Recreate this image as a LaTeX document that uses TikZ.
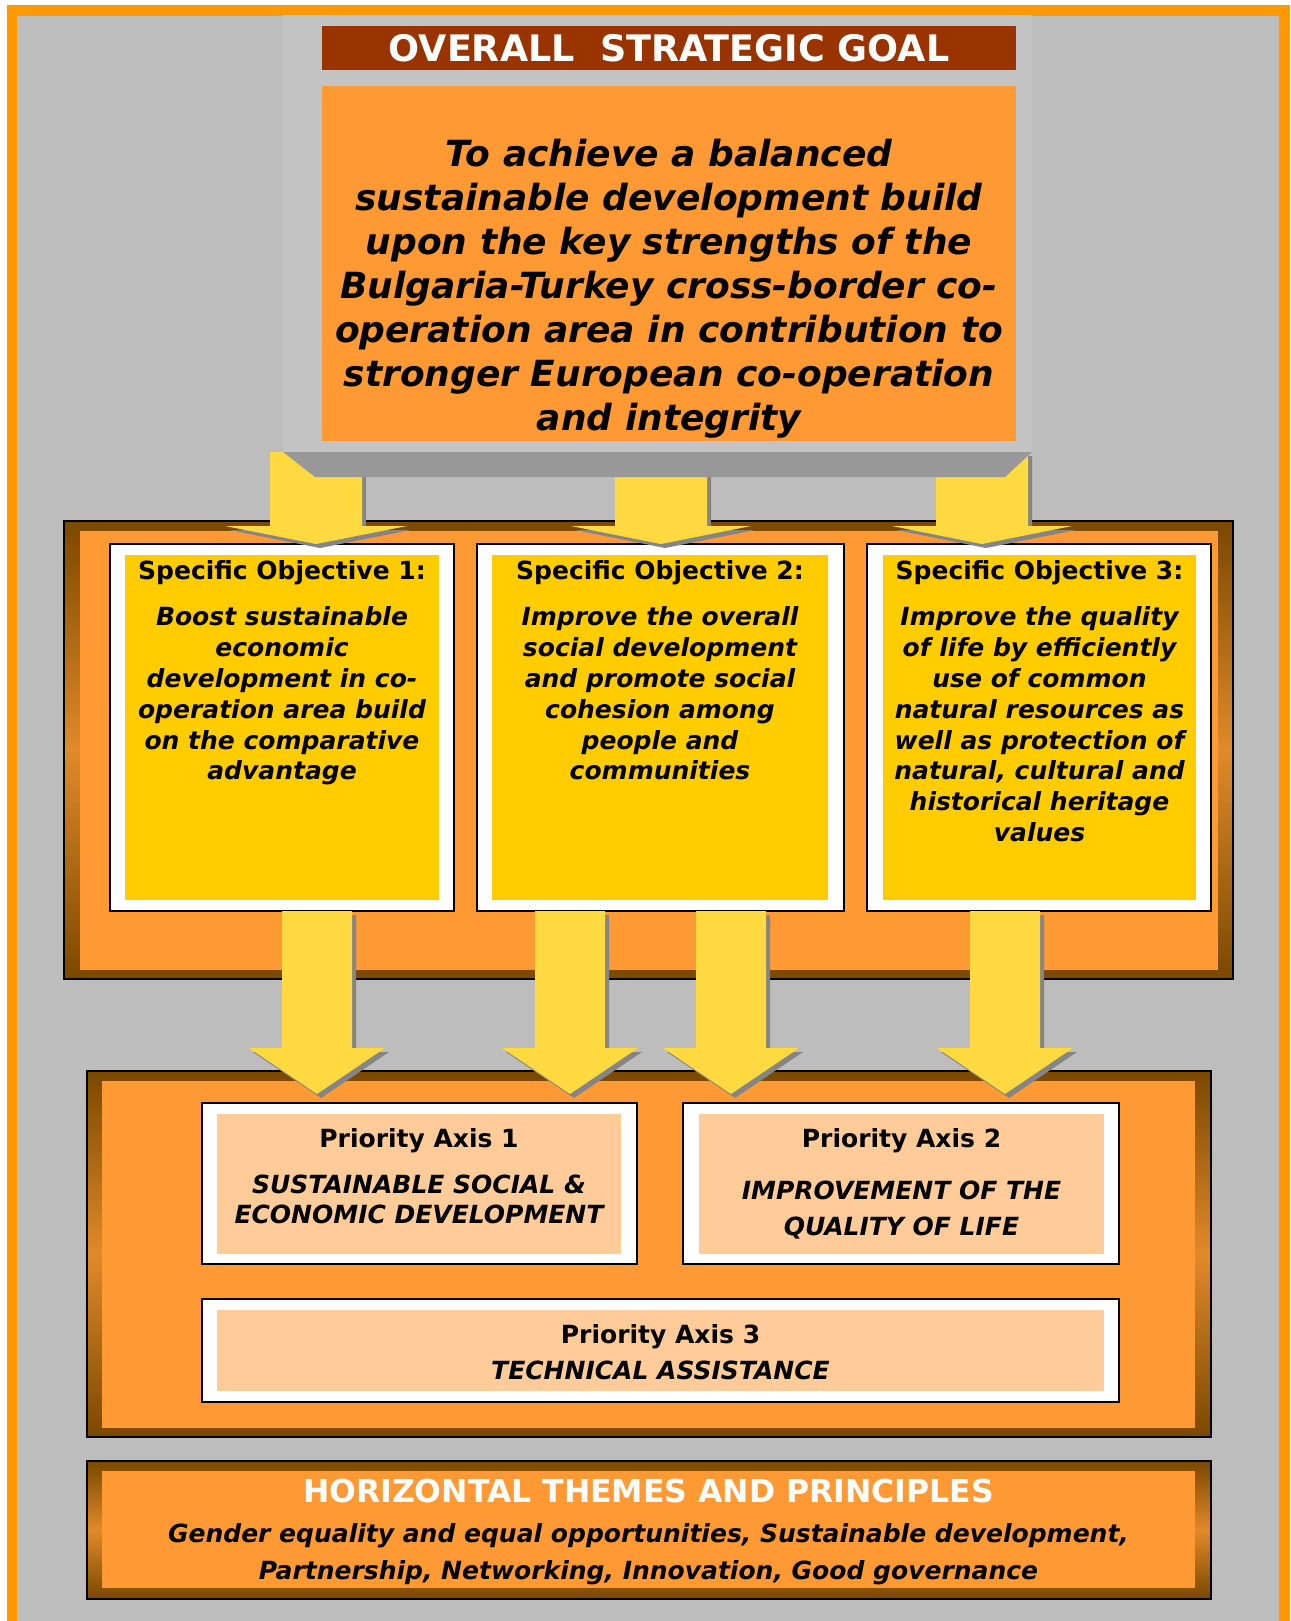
\documentclass[tikz,border=0pt]{standalone}
\usepackage{fontspec}
\setmainfont{DejaVu Sans}
\usetikzlibrary{positioning,calc}

\definecolor{framegold}{HTML}{FF9900}
\definecolor{dotgray}{HTML}{BDBDBD}
\definecolor{goalgray}{HTML}{C3C3C3}
\definecolor{bevelgray}{HTML}{989898}
\definecolor{titlered}{HTML}{993300}
\definecolor{boxorange}{HTML}{FF9933}
\definecolor{objyellow}{HTML}{FFCC00}
\definecolor{axispeach}{HTML}{FFCC99}
\definecolor{rimbrown}{HTML}{7A4800}
\definecolor{rimlight}{HTML}{E08A2A}
\definecolor{arrowyellow}{HTML}{FFD940}
\definecolor{arrowshade}{HTML}{858585}

% block arrow: x-coordinate, source node, target node, shaft half width, head half width, head length, gap at tip
\newcommand{\flowarrow}[7]{%
  \coordinate (fs) at (#2.south -| #1);
  \coordinate (ft) at ($(#3.north -| #1)+(0,-#7)$);
  \foreach \dx/\col in {4/arrowshade,0/arrowyellow}{
    \fill[\col] ($(fs)+(-#4+\dx,\dx)$) -- ($(fs)+(#4+\dx,\dx)$) -- ($(ft)+(#4+\dx,-#6+\dx)$)
      -- ($(ft)+(#5+\dx,-#6+\dx)$) -- ($(ft)+(\dx,\dx)$) -- ($(ft)+(-#5+\dx,-#6+\dx)$)
      -- ($(ft)+(-#4+\dx,-#6+\dx)$) -- cycle;
  }
}

\begin{document}
\begin{tikzpicture}[x=1pt,y=-1pt,
  box/.style={rectangle,inner sep=0pt,outer sep=0pt,anchor=north west},
  rim/.style={box,draw=black,line width=2pt,top color=rimbrown,bottom color=rimbrown,middle color=rimlight},
  whitebox/.style={box,draw=black,line width=2pt,fill=white},
  headtext/.style={inner sep=0pt,align=center,font={\bfseries\fontsize{25}{30}\selectfont}},
  bodytext/.style={inner sep=0pt,align=center,font={\bfseries\itshape\fontsize{25}{30.8}\selectfont}}
]
\useasboundingbox (0,0) rectangle (1290,1621);
\fill[white] (0,0) rectangle (1290,1621);
\fill[framegold] (7,5) rectangle (1290,1621);
\fill[dotgray] (17,16) rectangle (1279,1621);

% overall goal
\node[box,fill=goalgray,minimum width=749,minimum height=437] (goal) at (283,15) {};
\node[box,fill=titlered,minimum width=694,minimum height=44,text=white,
  font={\bfseries\fontsize{36.5}{40}\selectfont}] (title) at (322,26) {OVERALL\ \ STRATEGIC GOAL};
\node[box,fill=boxorange,minimum width=694,minimum height=355] (goalbox) at (322,86) {};
\node[inner sep=0pt,align=center,font={\bfseries\itshape\fontsize{36}{44}\selectfont}] (goaltxt) at (669,289)
  {To achieve a balanced\\ sustainable development build\\ upon the key strengths of the\\
   Bulgaria-Turkey cross-border co-\\ operation area in contribution to\\
   stronger European co-operation\\ and integrity};

% specific objectives
\node[rim,minimum width=1169,minimum height=458] (objframe) at (64,521) {};
\node[box,fill=boxorange,minimum width=1138,minimum height=439] (objinner) at (80,531) {};

\node[whitebox,minimum width=344,minimum height=367] (obj1) at (110,544) {};
\node[box,fill=objyellow,minimum width=314,minimum height=345] (obj1in) at (125,555) {};
\node[whitebox,minimum width=367,minimum height=367] (obj2) at (477,544) {};
\node[box,fill=objyellow,minimum width=336,minimum height=345] (obj2in) at (492,555) {};
\node[whitebox,minimum width=344,minimum height=367] (obj3) at (867,544) {};
\node[box,fill=objyellow,minimum width=313,minimum height=345] (obj3in) at (883,555) {};

\node[headtext,below=5pt of obj1in.north] (obj1head) {Specific Objective 1:};
\node[bodytext,below=22pt of obj1head] (obj1body) {Boost sustainable\\ economic\\ development in co-\\
  operation area build\\ on the comparative\\ advantage};
\node[headtext,below=5pt of obj2in.north] (obj2head) {Specific Objective 2:};
\node[bodytext,below=22pt of obj2head] (obj2body) {Improve the overall\\ social development\\
  and promote social\\ cohesion among\\ people and\\ communities};
\node[headtext,below=5pt of obj3in.north] (obj3head) {Specific Objective 3:};
\node[bodytext,below=22pt of obj3head] (obj3body) {Improve the quality\\ of life by efficiently\\
  use of common\\ natural resources as\\ well as protection of\\ natural, cultural and\\
  historical heritage\\ values};

% priority axes
\node[rim,minimum width=1124,minimum height=366] (paframe) at (87,1071) {};
\node[box,fill=boxorange,minimum width=1093,minimum height=347] (painner) at (102,1081) {};

\node[whitebox,minimum width=435,minimum height=161] (pa1) at (202,1103) {};
\node[box,fill=axispeach,minimum width=404,minimum height=140] (pa1in) at (217,1114) {};
\node[whitebox,minimum width=436,minimum height=161] (pa2) at (683,1103) {};
\node[box,fill=axispeach,minimum width=405,minimum height=140] (pa2in) at (699,1114) {};
\node[whitebox,minimum width=917,minimum height=103] (pa3) at (202,1299) {};
\node[box,fill=axispeach,minimum width=887,minimum height=81] (pa3in) at (217,1310) {};

\node[headtext,below=14pt of pa1in.north] (pa1head) {Priority Axis 1};
\node[bodytext,below=22pt of pa1head,font={\bfseries\itshape\fontsize{25}{30}\selectfont}] (pa1body)
  {SUSTAINABLE SOCIAL \&\\ ECONOMIC DEVELOPMENT};
\node[headtext,below=14pt of pa2in.north] (pa2head) {Priority Axis 2};
\node[bodytext,below=28pt of pa2head,font={\bfseries\itshape\fontsize{25}{36}\selectfont}] (pa2body)
  {IMPROVEMENT OF THE\\ QUALITY OF LIFE};
\node[headtext,below=14pt of pa3in.north] (pa3head) {Priority Axis 3};
\node[bodytext,below=12pt of pa3head] (pa3body) {TECHNICAL ASSISTANCE};

% horizontal themes
\node[rim,minimum width=1124,minimum height=138] (hframe) at (87,1461) {};
\node[box,fill=boxorange,minimum width=1093,minimum height=117] (hinner) at (102,1471) {};
\node[headtext,below=8pt of hinner.north,text=white,font={\bfseries\fontsize{31.5}{36}\selectfont}] (hhead)
  {HORIZONTAL THEMES AND PRINCIPLES};
\node[bodytext,below=20pt of hhead,font={\bfseries\itshape\fontsize{25}{37.5}\selectfont}] (hbody)
  {Gender equality and equal opportunities, Sustainable development,\\
   Partnership, Networking, Innovation, Good governance};

% arrows from the goal to the objectives
\coordinate (g1) at (316,0);
\coordinate (g2) at (661,0);
\coordinate (g3) at (982,0);
\flowarrow{g1}{goal}{obj1}{46}{91}{18}{0}
\flowarrow{g2}{goal}{obj2}{46}{90}{18}{0}
\flowarrow{g3}{goal}{obj3}{46}{90}{18}{0}
\fill[bevelgray] (goal.south west) -- (goal.south east) -- ++(-27,25) -- ($(goal.south west)+(32,25)$) -- cycle;

% arrows from the objectives to the priority axes
\coordinate (o1) at (317,0);
\coordinate (o2) at (570,0);
\coordinate (o3) at (731,0);
\coordinate (o4) at (1005,0);
\flowarrow{o1}{obj1}{pa1}{35}{68}{46}{9}
\flowarrow{o2}{obj2}{pa1}{35}{68}{46}{9}
\flowarrow{o3}{obj2}{pa2}{35}{68}{46}{9}
\flowarrow{o4}{obj3}{pa2}{35}{68}{46}{9}
\end{tikzpicture}
\end{document}
